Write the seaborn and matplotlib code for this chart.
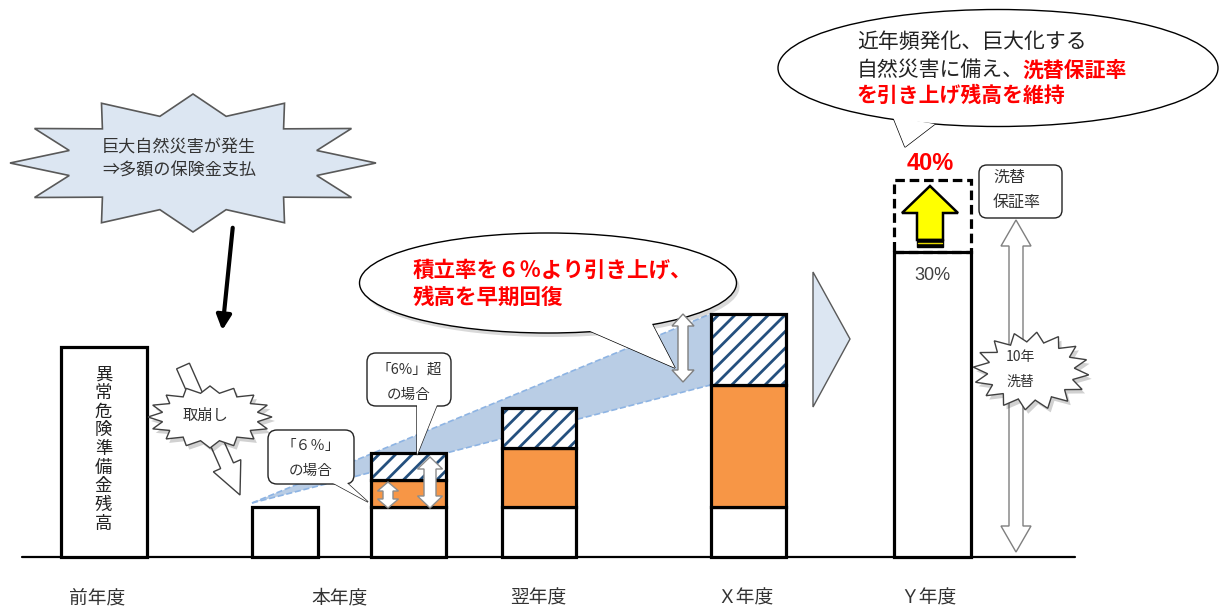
import numpy as np
import matplotlib
matplotlib.use("Agg")
import matplotlib.pyplot as plt
import seaborn as sns
from matplotlib.patches import Polygon, Ellipse, FancyBboxPatch, FancyArrow, Rectangle

# ---------------- data ----------------
bar_names = ["前年度", "本年度(取崩し後)", "本年度", "翌年度", "Ｘ年度", "Ｙ年度"]
base_vals = [210, 50, 50, 50, 50, 305]          # 異常危険準備金残高 (white)
accum_6pct = [0, 0, 27, 59, 122, 0]              # 6% 積立 (orange)
accum_over = [0, 0, 27, 40, 71, 0]               # 6% 超 積立 (hatched)
raised_vals = [0, 0, 0, 0, 0, 72]                # 洗替保証率引き上げ分 (dashed)
period_labels = ["前年度", "本年度", "翌年度", "Ｘ年度", "Ｙ年度"]
rate_now = "30%"
rate_new = "40%"

# ---------------- layout ----------------
bar_x = [103.5, 285, 408.5, 538.5, 748, 932]
bar_w = [86, 66, 75, 74, 75, 77]
label_x = [97, 340, 538, 745, 928]

sns.set_style("white")
plt.rcParams['font.family'] = ['Noto Sans CJK JP', 'DejaVu Sans']
plt.rcParams['hatch.linewidth'] = 2.0

W, H = 1219, 610
BASE = 557
fig = plt.figure(figsize=(12.19, 6.10), dpi=100)
ax = fig.add_axes([0, 0, 1, 1])
ax.set_xlim(0, W)
ax.set_ylim(BASE - H, BASE)
ax.axis('off')


def Y(py):
    return BASE - py


def P(pts):
    return [(px, Y(py)) for px, py in pts]


NAVY = '#24507E'
ORANGE = '#F79646'
LB = '#DCE6F2'
GRAY = '#595959'
RED = '#FF0000'

# ---------------- blue band (from data) ----------------
i0, i4 = 1, 4
apex = (bar_x[i0] - bar_w[i0] / 2, base_vals[i0] + 4)
xr = bar_x[i4] - bar_w[i4] / 2
lo = base_vals[i4] + accum_6pct[i4]
hi = lo + accum_over[i4]
ax.add_patch(Polygon([apex, (xr, hi), (xr, lo)], closed=True, fc='#B9CDE5',
                     ec='none', zorder=1))
ax.plot([apex[0], xr], [apex[1], hi], ls='--', color='#8EB4E3', lw=1.2, zorder=1)
ax.plot([apex[0], xr], [apex[1], lo], ls='--', color='#8EB4E3', lw=1.2, zorder=1)

# ---------------- bars ----------------
LW = 2.3
for i in range(len(bar_names)):
    b = base_vals[i]
    ax.bar(bar_x[i], b, bar_w[i], bottom=0, color='white', edgecolor='black',
           linewidth=LW, zorder=3)
    o = accum_6pct[i]
    if o:
        ax.bar(bar_x[i], o, bar_w[i], bottom=b, color=ORANGE, edgecolor='black',
               linewidth=LW, zorder=3)
    h = accum_over[i]
    if h:
        ax.bar(bar_x[i], h, bar_w[i], bottom=b + o, color='white', edgecolor=NAVY,
               hatch='//', linewidth=0, zorder=3)
        ax.bar(bar_x[i], h, bar_w[i], bottom=b + o, fill=False, edgecolor='black',
               linewidth=LW, zorder=4)
    r = raised_vals[i]
    if r:
        ax.bar(bar_x[i], r, bar_w[i], bottom=b, fill=False, edgecolor='black',
               linewidth=LW, linestyle=(0, (3, 1.5)), zorder=4)

# baseline
ax.plot([22, 1075], [0, 0], color='black', lw=1.6, zorder=2)

# category labels
for lx, t in zip(label_x, period_labels):
    ax.text(lx, Y(598), t, ha='center', va='center', fontsize=13.5, color='#333333')

# vertical text in 前年度 bar
ax.text(bar_x[0], Y(449), "\n".join("異常危険準備金残高"), ha='center', va='center',
        fontsize=12.5, linespacing=1.05, color='#222222', zorder=6)


# ---------------- helpers ----------------
def burst(cx, cy, rx, ry, n, inner, fc, ec, lw=1.0, z=5, shadow=False, phase=0.0):
    ang = np.linspace(0, 2 * np.pi, 2 * n, endpoint=False) + phase
    rr = np.where(np.arange(2 * n) % 2 == 0, 1.0, inner)
    xs = cx + rx * rr * np.cos(ang)
    ys = cy + ry * rr * np.sin(ang)
    if shadow:
        ax.add_patch(Polygon(P(list(zip(xs + 3, ys + 4))), closed=True, fc='#000000',
                             alpha=0.18, ec='none', zorder=z - 0.1))
    ax.add_patch(Polygon(P(list(zip(xs, ys))), closed=True, fc=fc, ec=ec, lw=lw, zorder=z))


def vdarrow(x, ytop, ybot, sw, hw, hl, fc='white', ec='#7F7F7F', lw=1.0, z=6):
    pts = [(x, ytop), (x + hw / 2, ytop + hl), (x + sw / 2, ytop + hl), (x + sw / 2, ybot - hl),
           (x + hw / 2, ybot - hl), (x, ybot), (x - hw / 2, ybot - hl), (x - sw / 2, ybot - hl),
           (x - sw / 2, ytop + hl), (x - hw / 2, ytop + hl)]
    ax.add_patch(Polygon(P(pts), closed=True, fc=fc, ec=ec, lw=lw, zorder=z))


def bubble(cx, cy, w, h, tail, z=5, shadow=False):
    if shadow:
        ax.add_patch(Ellipse((cx + 3, Y(cy + 4)), w, h, fc='black', alpha=0.15, ec='none', zorder=z - 0.2))
    ax.add_patch(Polygon(P(tail), closed=True, fc='white', ec='black', lw=1.0, zorder=z))
    ax.add_patch(Ellipse((cx, Y(cy)), w, h, fc='white', ec='black', lw=1.0, zorder=z))
    ax.add_patch(Polygon(P(tail), closed=True, fc='white', ec='none', zorder=z + 0.1))


def callout(x0, y0, x1, y1, tail, z=6):
    ax.add_patch(Polygon(P(tail), closed=True, fc='white', ec='#222222', lw=1.0, zorder=z))
    ax.add_patch(FancyBboxPatch((x0, Y(y1)), x1 - x0, y1 - y0,
                                boxstyle="round,pad=0,rounding_size=9",
                                fc='white', ec='#222222', lw=1.0, zorder=z))
    ax.add_patch(Polygon(P(tail), closed=True, fc='white', ec='none', zorder=z + 0.1))


# ---------------- top-left burst ----------------
burst(193, 163, 183, 69, 12, 0.7, LB, GRAY, lw=1.2, z=5, phase=0.0)
ax.text(102, Y(148), "巨大自然災害が発生", ha='left', va='center', fontsize=12.3,
        color='#333333', zorder=7)
ax.text(102, Y(171), "⇒多額の保険金支払", ha='left', va='center', fontsize=12.3,
        color='#333333', zorder=7)

# black arrow
ax.annotate("", xy=(222, Y(333)), xytext=(233, Y(225)),
            arrowprops=dict(arrowstyle='-|>', lw=3.0, color='black', mutation_scale=22),
            zorder=6)

# 取崩し hollow arrow + burst
ax.add_patch(FancyArrow(183, Y(366), 57, -(495 - 366), width=14, head_width=30,
                        head_length=32, length_includes_head=True, fc='white',
                        ec='#404040', lw=1.0, zorder=4))
burst(210, 417, 62, 31, 16, 0.78, 'white', '#404040', lw=1.0, z=5, shadow=True)
ax.text(205, Y(415), "取崩し", ha='center', va='center', fontsize=11, color='#333333', zorder=7)

# callouts
callout(268, 430, 354, 484, [(333, 483), (347, 483), (368, 502)])
ax.text(311, Y(446), "「６％」", ha='center', va='center', fontsize=10.5, color='#333333', zorder=8)
ax.text(311, Y(471), "の場合", ha='center', va='center', fontsize=10.5, color='#333333', zorder=8)
callout(367, 353, 451, 406, [(417, 405), (437, 405), (417, 455)])
ax.text(409, Y(370), "「6%」超", ha='center', va='center', fontsize=10.5, color='#333333', zorder=8)
ax.text(409, Y(395), "の場合", ha='center', va='center', fontsize=10.5, color='#333333', zorder=8)

# arrows inside 本年度 bar
vdarrow(388, 482, 508, 10, 21, 9, ec='#8C8C8C', z=6)
vdarrow(430, 457, 508, 12, 25, 12, ec='#8C8C8C', z=6)

# middle bubble
bubble(548, 283, 377, 100, [(583, 328), (675, 368), (650, 320)], z=5, shadow=True)
ax.text(413, Y(270), "積立率を６％より引き上げ、", ha='left', va='center', fontsize=15.5,
        fontweight='bold', color=RED, zorder=8)
ax.text(413, Y(297), "残高を早期回復", ha='left', va='center', fontsize=15.5,
        fontweight='bold', color=RED, zorder=8)
vdarrow(683, 314, 382, 10, 22, 12, ec='#7F7F7F', z=6)

# chevron
ax.add_patch(Polygon(P([(813, 272), (850, 339), (813, 407)]), closed=True, fc=LB,
                     ec=GRAY, lw=1.0, zorder=2))

# Y年度 annotations
ax.text(bar_x[5] - 2, Y(163), rate_new, ha='center', va='center', fontsize=17,
        fontweight='bold', color=RED, zorder=8, family=['Liberation Sans', 'DejaVu Sans'])
ax.text(bar_x[5], Y(275), rate_now, ha='center', va='center', fontsize=13,
        color='#404040', zorder=8, family=['Liberation Sans', 'DejaVu Sans'])
yarr = [(930, 186), (958, 213), (943, 213), (943, 240), (917, 240), (917, 213), (902, 213)]
ax.add_patch(Polygon(P(yarr), closed=True, fc='#FFFF00', ec='black', lw=1.8, zorder=6))
ax.add_patch(Rectangle((917, Y(247)), 26, 8, fc='black', ec='black', lw=1, zorder=6))
ax.plot([918, 942], [Y(242.5), Y(242.5)], color='#E6D800', lw=1.0, zorder=6.5)

# 洗替保証率 box
ax.add_patch(FancyBboxPatch((979, Y(218)), 83, 53, boxstyle="round,pad=0,rounding_size=8",
                            fc='white', ec='#222222', lw=1.0, zorder=6))
ax.text(993, Y(177), "洗替", ha='left', va='center', fontsize=11.5, color='#333333', zorder=8)
ax.text(993, Y(203), "保証率", ha='left', va='center', fontsize=11.5, color='#333333', zorder=8)

# long double arrow
vdarrow(1016, 220, 552, 14, 30, 26, ec='#7F7F7F', z=5)
burst(1031, 371, 58, 39, 16, 0.75, 'white', '#404040', lw=1.0, z=6, shadow=True, phase=0.1)
ax.text(1020, Y(357), "10年", ha='center', va='center', fontsize=10, color='#333333', zorder=8)
ax.text(1020, Y(382), "洗替", ha='center', va='center', fontsize=10, color='#333333', zorder=8)

# big bubble top-right
bubble(998, 68, 440, 117, [(893, 117), (935, 124), (905, 147)], z=5)
ax.text(857, Y(42), "近年頻発化、巨大化する", ha='left', va='center', fontsize=15,
        color='#222222', zorder=8)
ax.text(857, Y(70), "自然災害に備え、", ha='left', va='center', fontsize=15,
        color='#222222', zorder=8)
ax.text(1022, Y(70), "洗替保証率", ha='left', va='center', fontsize=15,
        fontweight='bold', color=RED, zorder=8)
ax.text(857, Y(95), "を引き上げ残高を維持", ha='left', va='center', fontsize=15,
        fontweight='bold', color=RED, zorder=8)

fig.savefig("out.png", dpi=100, facecolor='white')
